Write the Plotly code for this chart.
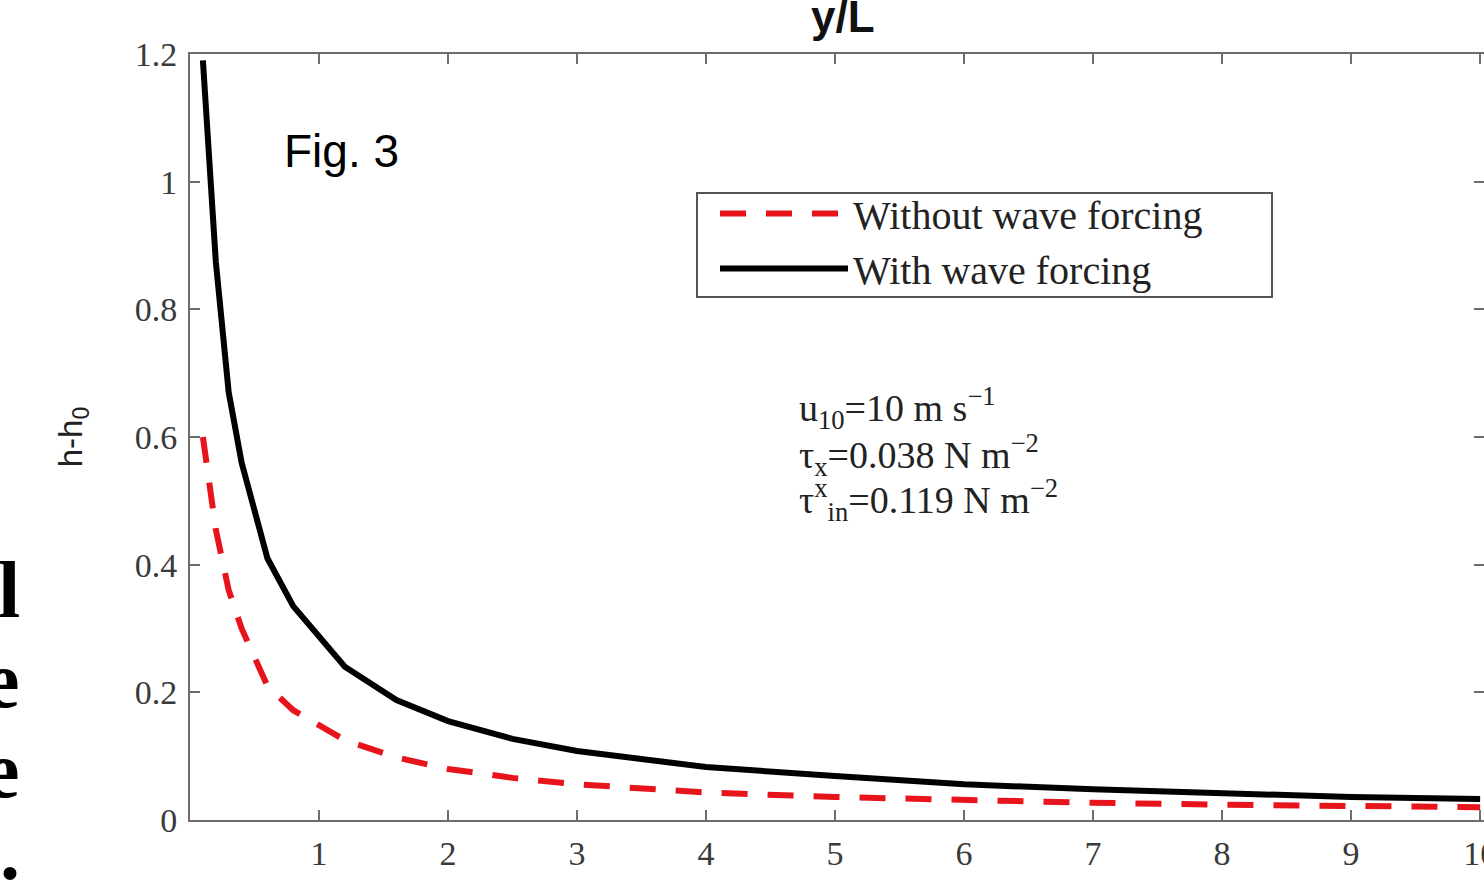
import plotly.graph_objects as go

# Distance along the section, y/L
y_over_l = [0.1, 0.2, 0.3, 0.4, 0.6, 0.8, 1.2, 1.6, 2.0, 2.5, 3.0, 4.0, 5.0, 6.0, 7.0, 8.0, 9.0, 10.0]

# Surface elevation anomaly h - h0
without_wave = [0.60, 0.455, 0.36, 0.30, 0.21, 0.172, 0.125, 0.098, 0.080, 0.066, 0.056,
                0.043, 0.036, 0.031, 0.027, 0.024, 0.022, 0.020]
with_wave = [1.19, 0.875, 0.67, 0.56, 0.41, 0.335, 0.24, 0.188, 0.155, 0.127, 0.108,
             0.083, 0.069, 0.056, 0.048, 0.041, 0.036, 0.033]

x_ticks = [1, 2, 3, 4, 5, 6, 7, 8, 9, 10]
y_ticks = [0, 0.2, 0.4, 0.6, 0.8, 1.0, 1.2]
y_tick_text = ["0", "0.2", "0.4", "0.6", "0.8", "1", "1.2"]

SERIF = "Liberation Serif, Times New Roman, serif"
SANS = "Liberation Sans, Arial, sans-serif"

fig = go.Figure()
fig.add_trace(go.Scatter(
    x=y_over_l, y=without_wave, mode="lines", name="Without wave forcing",
    line=dict(color="#e8141c", width=6, dash="26px,20px"),
))
fig.add_trace(go.Scatter(
    x=y_over_l, y=with_wave, mode="lines", name="With wave forcing",
    line=dict(color="#000000", width=6),
))

axis_common = dict(
    showgrid=False, zeroline=False, showline=True, linecolor="#6e6e6e", linewidth=2,
    mirror="ticks", ticks="inside", ticklen=10, tickwidth=2, tickcolor="#6e6e6e",
    tickfont=dict(family=SERIF, size=34, color="#3a3a3a"), automargin=False,
)

fig.update_xaxes(range=[0, 10.03], tickvals=x_ticks, ticklabelstandoff=2,
                 ticklabeloverflow="allow", **axis_common)
fig.update_yaxes(range=[0, 1.2], tickvals=y_ticks, ticktext=y_tick_text,
                 title=dict(text="h-h<sub>0</sub>", font=dict(family=SANS, size=33, color="#222"),
                            standoff=42),
                 ticklabelstandoff=4, **axis_common)


def px_x(px):
    return (px - 190) / 1294


def px_y(py):
    return (820 - py) / 766


fig.update_layout(
    width=1484, height=888,
    margin=dict(l=190, r=0, t=54, b=68),
    paper_bgcolor="white", plot_bgcolor="white",
    showlegend=True,
    legend=dict(
        x=px_x(715), y=px_y(181), xanchor="left", yanchor="top",
        borderwidth=0, bgcolor="rgba(0,0,0,0)",
        font=dict(family=SERIF, size=40, color="#222"),
        itemwidth=128, tracegroupgap=0,
    ),
)

# Legend frame
fig.add_shape(type="rect", xref="paper", yref="paper",
              x0=px_x(697), x1=px_x(1272), y0=px_y(297), y1=px_y(193),
              line=dict(color="#555555", width=2), fillcolor="rgba(0,0,0,0)", layer="above")

fig.add_annotation(text="Fig. 3", x=px_x(282), y=px_y(151), xref="paper", yref="paper",
                   xanchor="left", yanchor="middle", showarrow=False,
                   font=dict(family=SANS, size=46, color="#000"))

fig.add_annotation(text="<b>y/L</b>", x=px_x(843), y=px_y(17), xref="paper", yref="paper",
                   xanchor="center", yanchor="middle", showarrow=False,
                   font=dict(family=SANS, size=44, color="#111"))

params = [
    ("u<sub>10</sub>=10 m s<sup>−1</sup>", 408),
    ("τ<sub>x</sub>=0.038 N m<sup>−2</sup>", 455),
    ("τ<sup>x</sup><sub>in</sub>=0.119 N m<sup>−2</sup>", 500),
]
for txt, py in params:
    fig.add_annotation(text=txt, x=px_x(797), y=px_y(py), xref="paper", yref="paper",
                       xanchor="left", yanchor="middle", showarrow=False,
                       font=dict(family=SERIF, size=38, color="#222"))

# Fragments of the neighbouring slide text along the left edge
for ch, py in [("l", 590), ("e", 680), ("e", 770), (".", 852)]:
    fig.add_annotation(text=f"<b>{ch}</b>", x=px_x(22), y=px_y(py), xref="paper", yref="paper",
                       xanchor="right", yanchor="middle", showarrow=False,
                       font=dict(family=SERIF, size=80, color="#000"))

fig.write_html("out.html")
